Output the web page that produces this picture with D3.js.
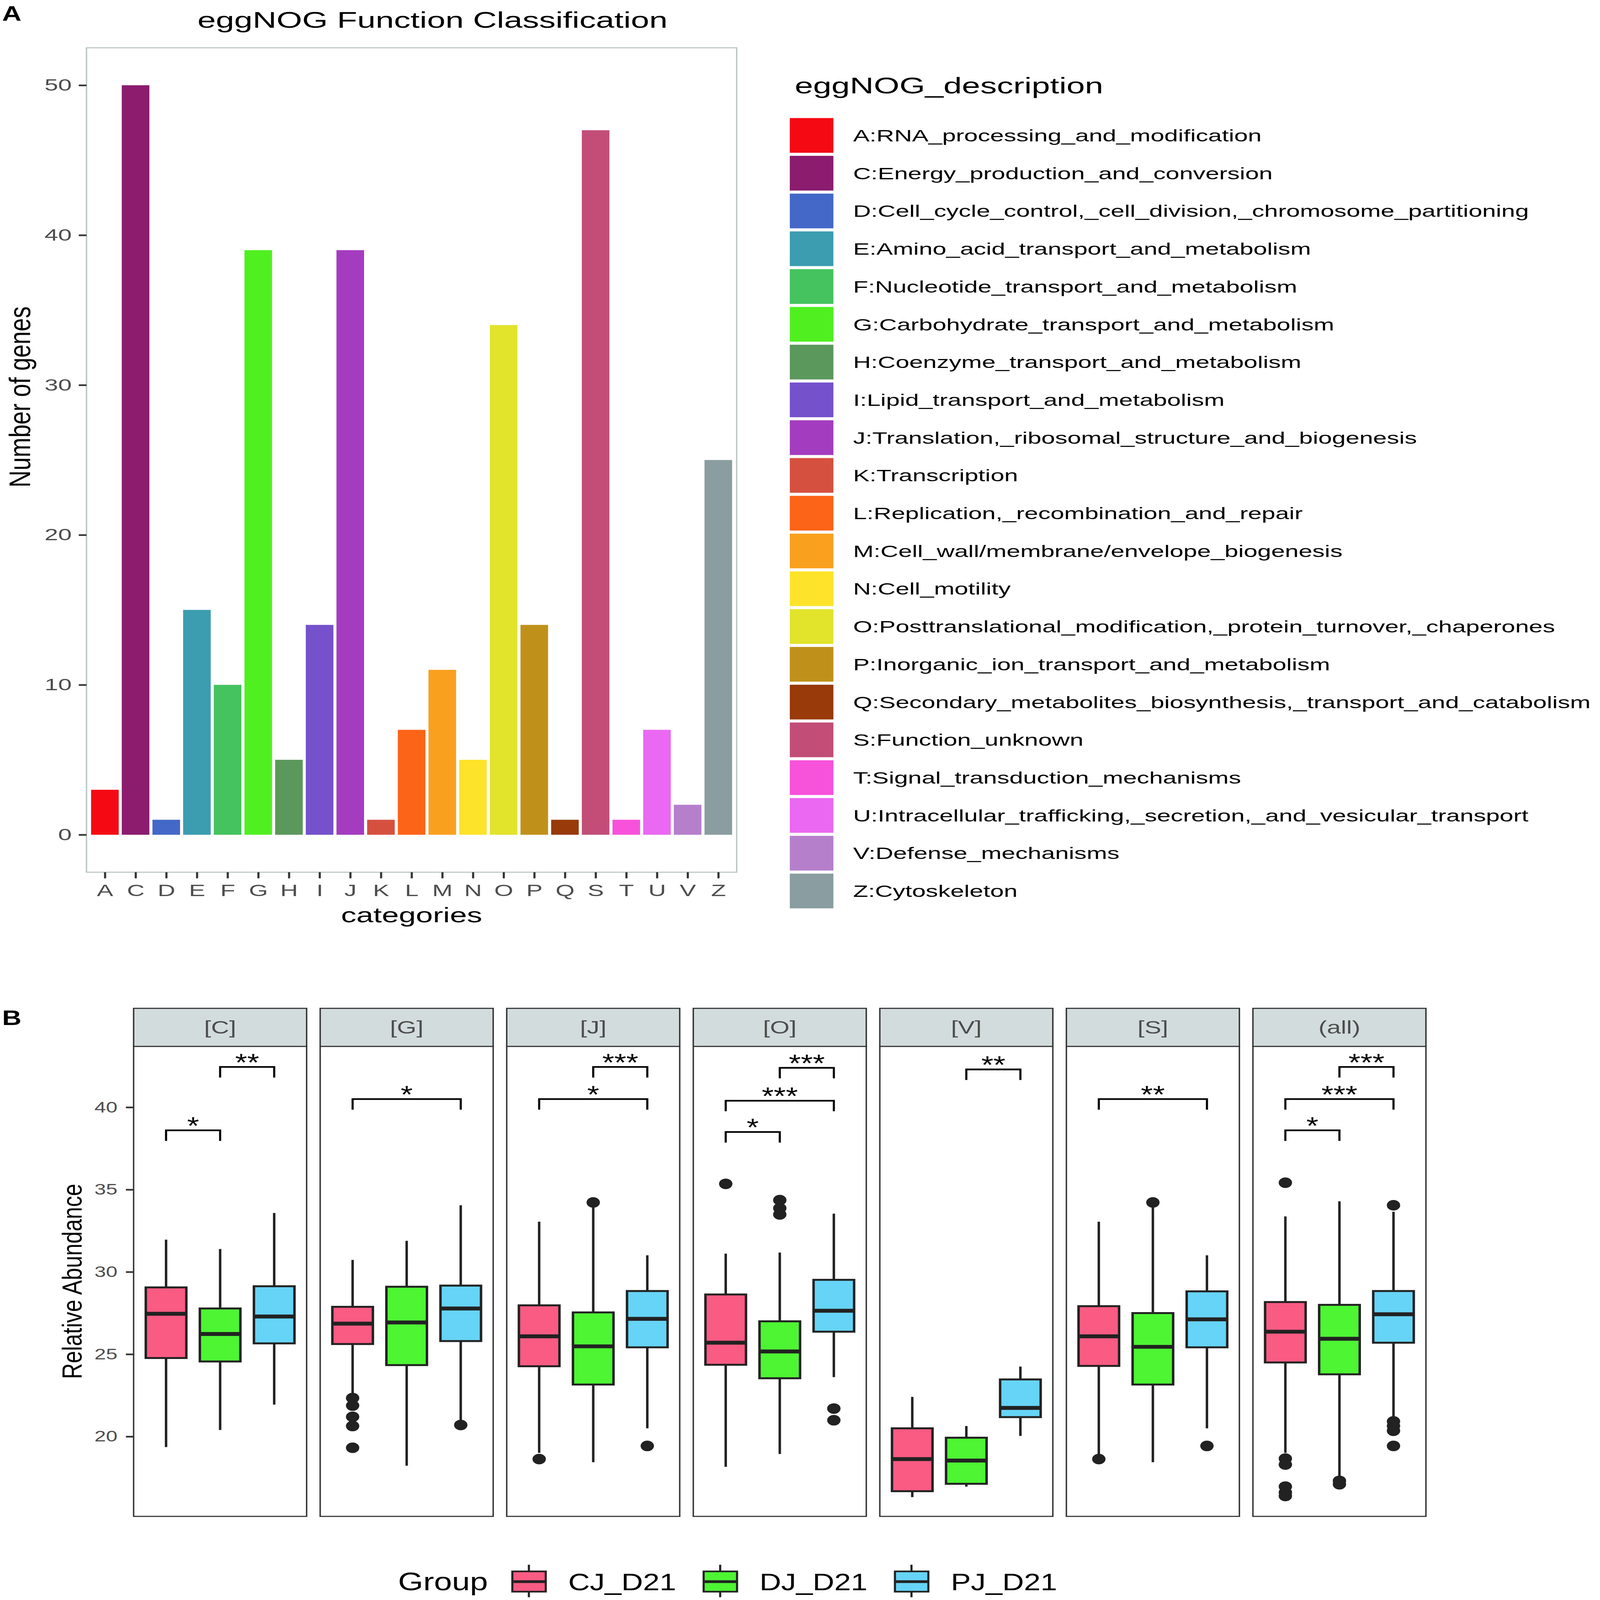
<!DOCTYPE html>
<html lang="en">
  <head>
    <meta charset="UTF-8" />
    <meta name="viewport" content="width=device-width, initial-scale=1.0" />
    <title>eggNOG Function Classification</title>
    <style>
      html,
      body {
        margin: 0;
        padding: 0;
        overflow: hidden;
        background-color: #ffffff;
      }
      #chart svg {
        display: block;
        width: 100vw;
        height: 100vh;
      }
      svg text {
        font-family: "Liberation Sans", Arial, Helvetica, sans-serif;
      }
    </style>
  </head>
  <body>
    <div id="chart"></div>

    <script src="https://d3js.org/d3.v7.min.js"></script>
    <script>
      // ---- panel A : eggNOG bar chart ----
      const categories = ["A", "C", "D", "E", "F", "G", "H", "I", "J", "K", "L",
        "M", "N", "O", "P", "Q", "S", "T", "U", "V", "Z"];
      const geneCounts = [3, 50, 1, 15, 10, 39, 5, 14, 39, 1, 7,
        11, 5, 34, 14, 1, 47, 1, 7, 2, 25];
      const descriptions = [
        "A:RNA_processing_and_modification",
        "C:Energy_production_and_conversion",
        "D:Cell_cycle_control,_cell_division,_chromosome_partitioning",
        "E:Amino_acid_transport_and_metabolism",
        "F:Nucleotide_transport_and_metabolism",
        "G:Carbohydrate_transport_and_metabolism",
        "H:Coenzyme_transport_and_metabolism",
        "I:Lipid_transport_and_metabolism",
        "J:Translation,_ribosomal_structure_and_biogenesis",
        "K:Transcription",
        "L:Replication,_recombination_and_repair",
        "M:Cell_wall/membrane/envelope_biogenesis",
        "N:Cell_motility",
        "O:Posttranslational_modification,_protein_turnover,_chaperones",
        "P:Inorganic_ion_transport_and_metabolism",
        "Q:Secondary_metabolites_biosynthesis,_transport_and_catabolism",
        "S:Function_unknown",
        "T:Signal_transduction_mechanisms",
        "U:Intracellular_trafficking,_secretion,_and_vesicular_transport",
        "V:Defense_mechanisms",
        "Z:Cytoskeleton",
      ];
      const barColors = ["#F50A14", "#8B1C6E", "#4468C8", "#3C9DB0", "#44C35E",
        "#50F020", "#5B985C", "#7551CB", "#A43CBF", "#D6503F", "#FC6418",
        "#F9A01F", "#FDE32A", "#E2E32B", "#C0911A", "#983A0A", "#C24E78",
        "#F652DA", "#EA68F2", "#B57FCC", "#8A9DA0"];
      const yTicksA = [0, 10, 20, 30, 40, 50];

      // ---- panel B : relative abundance boxplots ----
      const facets = ["[C]", "[G]", "[J]", "[O]", "[V]", "[S]", "(all)"];
      const groups = ["CJ_D21", "DJ_D21", "PJ_D21"];
      const groupColors = ["#F95B83", "#4DF533", "#66D4F7"];
      const yTicksB = [20, 25, 30, 35, 40];
      // rows = facets, columns = groups
      const whiskerLow = [
        [19.36, 20.4, 21.94], [22.62, 18.23, 20.85], [19.01, 18.44, 20.5],
        [18.16, 18.94, 23.61], [16.32, 16.96, 20.04], [18.94, 18.44, 20.5],
        [19.01, 17.6, 21.13]];
      const q1 = [
        [24.77, 24.56, 25.66], [25.62, 24.34, 25.8], [24.27, 23.16, 25.42],
        [24.36, 23.54, 26.37], [16.68, 17.13, 21.18], [24.29, 23.16, 25.42],
        [24.5, 23.78, 25.7]];
      const median = [
        [27.46, 26.23, 27.29], [26.86, 26.93, 27.78], [26.09, 25.48, 27.15],
        [25.7, 25.17, 27.64], [18.63, 18.54, 21.74], [26.09, 25.45, 27.12],
        [26.37, 25.94, 27.43]];
      const q3 = [
        [29.06, 27.78, 29.13], [27.88, 29.1, 29.17], [27.97, 27.54, 28.84],
        [28.63, 27.0, 29.52], [20.5, 19.93, 23.47], [27.92, 27.5, 28.82],
        [28.17, 28.0, 28.84]];
      const whiskerHigh = [
        [31.96, 31.39, 33.58], [30.73, 31.89, 34.05], [33.05, 33.94, 31.01],
        [31.11, 31.18, 33.54], [22.41, 20.64, 24.25], [33.05, 33.94, 31.01],
        [33.37, 34.29, 33.66]];
      const outliers = [
        [[], [], []],
        [[22.34, 21.88, 21.2, 20.64, 19.32], [], [20.7]],
        [[18.63], [34.22], [19.43]],
        [[35.35], [34.36, 33.87, 33.49], [21.7, 20.99]],
        [[], [], []],
        [[18.63], [34.22], [19.43]],
        [[35.42, 18.66, 18.3, 16.96, 16.6, 16.39], [17.31, 17.1],
          [34.05, 20.92, 20.64, 20.35, 19.43]]];

      // significance brackets
      const sigFacet = ["[C]", "[C]", "[G]", "[J]", "[J]", "[O]", "[O]", "[O]",
        "[V]", "[S]", "(all)", "(all)", "(all)"];
      const sigFrom = ["DJ_D21", "CJ_D21", "CJ_D21", "DJ_D21", "CJ_D21", "DJ_D21",
        "CJ_D21", "CJ_D21", "DJ_D21", "CJ_D21", "DJ_D21", "CJ_D21", "CJ_D21"];
      const sigTo = ["PJ_D21", "DJ_D21", "PJ_D21", "PJ_D21", "PJ_D21", "PJ_D21",
        "PJ_D21", "DJ_D21", "PJ_D21", "PJ_D21", "PJ_D21", "PJ_D21", "DJ_D21"];
      const sigY = [42.45, 38.6, 40.5, 42.45, 40.5, 42.4, 40.4, 38.5,
        42.3, 40.5, 42.45, 40.5, 38.6];
      const sigLabel = ["**", "*", "*", "***", "*", "***", "***", "*",
        "**", "**", "***", "***", "*"];

      // ---- helpers ----
      function addText(parent, str, x, y, opts) {
        const o = Object.assign(
          { size: 60, sx: 1, anchor: "start", fill: "#000", weight: "normal", rotate: 0 },
          opts
        );
        let tf = `translate(${x},${y}) scale(${o.sx},1)`;
        if (o.rotate) tf += ` rotate(${o.rotate})`;
        return parent
          .append("text")
          .attr("transform", tf)
          .attr("text-anchor", o.anchor)
          .attr("font-size", o.size)
          .attr("font-weight", o.weight)
          .attr("fill", o.fill)
          .text(str);
      }

      // widen axis labels a bit, the figure's font runs wider than Arial
      function stretch(sel, sx) {
        sel.each(function () {
          const t = d3.select(this);
          const x = +t.attr("x") || 0;
          const y = +t.attr("y") || 0;
          t.attr("x", 0)
            .attr("y", 0)
            .attr("transform", `translate(${x},${y}) scale(${sx},1)`);
        });
      }

      const W = 4550,
        H = 5760;
      const svg = d3
        .select("#chart")
        .append("svg")
        .attr("viewBox", `0 0 ${W} ${H}`)
        .attr("preserveAspectRatio", "none")
        .style("background-color", "#ffffff");

      // =========================== PANEL A ===========================
      const A = { left: 246, right: 2095, top: 172, bottom: 3140 };
      const xA = d3
        .scalePoint()
        .domain(categories)
        .range([A.left, A.right])
        .padding(0.6);
      const yA = d3.scaleLinear().domain([-2.5, 52.5]).range([A.bottom, A.top]);

      addText(svg, "A", 6, 74, { size: 76, weight: "bold" });
      addText(svg, "eggNOG Function Classification", 1230, 100, {
        size: 81, sx: 1.16, anchor: "middle",
      });

      svg
        .append("rect")
        .attr("x", A.left)
        .attr("y", A.top)
        .attr("width", A.right - A.left)
        .attr("height", A.bottom - A.top)
        .attr("fill", "#ffffff");

      svg
        .append("g")
        .selectAll("rect")
        .data(categories)
        .join("rect")
        .attr("x", (d) => xA(d) - xA.step() * 0.45)
        .attr("width", xA.step() * 0.9)
        .attr("y", (d, i) => yA(geneCounts[i]))
        .attr("height", (d, i) => yA(0) - yA(geneCounts[i]))
        .attr("fill", (d, i) => barColors[i]);

      svg
        .append("rect")
        .attr("x", A.left)
        .attr("y", A.top)
        .attr("width", A.right - A.left)
        .attr("height", A.bottom - A.top)
        .attr("fill", "none")
        .attr("stroke", "#bcc6c6")
        .attr("stroke-width", 4);

      const yAxisA = svg
        .append("g")
        .attr("transform", `translate(${A.left},0)`)
        .call(d3.axisLeft(yA).tickValues(yTicksA).tickSize(22).tickPadding(20));
      yAxisA.select(".domain").remove();
      yAxisA.selectAll("line").attr("stroke", "#333333").attr("stroke-width", 6);
      yAxisA.selectAll("text").attr("fill", "#4d4d4d").attr("font-size", 60);
      stretch(yAxisA.selectAll("text"), 1.16);

      const xAxisA = svg
        .append("g")
        .attr("transform", `translate(0,${A.bottom})`)
        .call(d3.axisBottom(xA).tickSize(22).tickPadding(21));
      xAxisA.select(".domain").remove();
      xAxisA.selectAll("line").attr("stroke", "#333333").attr("stroke-width", 6);
      xAxisA.selectAll("text").attr("fill", "#4d4d4d").attr("font-size", 60);
      stretch(xAxisA.selectAll("text"), 1.16);

      addText(svg, "categories", (A.left + A.right) / 2, 3320, {
        size: 75, sx: 1.16, anchor: "middle",
      });
      addText(svg, "Number of genes", 85, 1429, {
        size: 85, anchor: "middle", rotate: -90,
      });

      // legend
      addText(svg, "eggNOG_description", 2260, 336, { size: 81, sx: 1.16 });
      const legA = svg
        .append("g")
        .selectAll("g")
        .data(descriptions)
        .join("g")
        .attr("transform", (d, i) => `translate(2246,${425 + i * 136})`);
      legA
        .append("rect")
        .attr("width", 124)
        .attr("height", 125)
        .attr("fill", (d, i) => barColors[i]);
      legA.each(function (d) {
        addText(d3.select(this), d, 180, 84, { size: 61, sx: 1.15 });
      });

      // =========================== PANEL B ===========================
      const B = { top: 3767, bottom: 5459, stripTop: 3630 };
      const facetX = d3
        .scaleBand()
        .domain(facets)
        .range([380, 4055])
        .paddingInner(0.0726);
      const bw = facetX.bandwidth();
      const xB = d3.scalePoint().domain(groups).range([0, bw]).padding(0.6);
      const yB = d3.scaleLinear().domain([15.15, 43.7]).range([B.bottom, B.top]);
      const boxW = xB.step() * 0.75;
      const ink = "#222222";

      addText(svg, "B", 6, 3690, { size: 76, weight: "bold" });

      facets.forEach((f, fi) => {
        const g = svg.append("g").attr("transform", `translate(${facetX(f)},0)`);

        g.append("rect")
          .attr("x", 0)
          .attr("y", B.top)
          .attr("width", bw)
          .attr("height", B.bottom - B.top)
          .attr("fill", "#ffffff")
          .attr("stroke", "#333333")
          .attr("stroke-width", 4);

        g.append("rect")
          .attr("x", 0)
          .attr("y", B.stripTop)
          .attr("width", bw)
          .attr("height", B.top - B.stripTop)
          .attr("fill", "#d3dcdc")
          .attr("stroke", "#333333")
          .attr("stroke-width", 4);
        addText(g, f, bw / 2, 3721, {
          size: 65, sx: 1.1, anchor: "middle", fill: "#4d4d4d",
        });

        groups.forEach((grp, gi) => {
          const cx = xB(grp);
          g.append("line")
            .attr("x1", cx)
            .attr("x2", cx)
            .attr("y1", yB(whiskerHigh[fi][gi]))
            .attr("y2", yB(q3[fi][gi]))
            .attr("stroke", ink)
            .attr("stroke-width", 7);
          g.append("line")
            .attr("x1", cx)
            .attr("x2", cx)
            .attr("y1", yB(q1[fi][gi]))
            .attr("y2", yB(whiskerLow[fi][gi]))
            .attr("stroke", ink)
            .attr("stroke-width", 7);
          g.append("rect")
            .attr("x", cx - boxW / 2)
            .attr("width", boxW)
            .attr("y", yB(q3[fi][gi]))
            .attr("height", yB(q1[fi][gi]) - yB(q3[fi][gi]))
            .attr("fill", groupColors[gi])
            .attr("stroke", ink)
            .attr("stroke-width", 7);
          g.append("line")
            .attr("x1", cx - boxW / 2)
            .attr("x2", cx + boxW / 2)
            .attr("y1", yB(median[fi][gi]))
            .attr("y2", yB(median[fi][gi]))
            .attr("stroke", ink)
            .attr("stroke-width", 14);
          g.selectAll(null)
            .data(outliers[fi][gi])
            .join("circle")
            .attr("cx", cx)
            .attr("cy", (d) => yB(d))
            .attr("r", 19)
            .attr("fill", ink);
        });

        sigFacet.forEach((sf, si) => {
          if (sf !== f) return;
          const x1 = xB(sigFrom[si]);
          const x2 = xB(sigTo[si]);
          const y = yB(sigY[si]);
          g.append("path")
            .attr("d", `M${x1},${y + 38}V${y}H${x2}V${y + 38}`)
            .attr("fill", "none")
            .attr("stroke", "#000000")
            .attr("stroke-width", 6);
          addText(g, sigLabel[si], (x1 + x2) / 2, y + 13, {
            size: 88, anchor: "middle",
          });
        });
      });

      const yAxisB = svg
        .append("g")
        .attr("transform", `translate(${facetX(facets[0])},0)`)
        .call(d3.axisLeft(yB).tickValues(yTicksB).tickSize(22).tickPadding(24));
      yAxisB.select(".domain").remove();
      yAxisB.selectAll("line").attr("stroke", "#333333").attr("stroke-width", 6);
      yAxisB.selectAll("text").attr("fill", "#4d4d4d").attr("font-size", 55);
      stretch(yAxisB.selectAll("text"), 1.07);

      addText(svg, "Relative Abundance", 232, (B.top + B.bottom) / 2, {
        size: 79, anchor: "middle", rotate: -90,
      });

      // legend
      addText(svg, "Group", 1132, 5725, { size: 92 });
      const legB = svg
        .append("g")
        .selectAll("g")
        .data(groups)
        .join("g")
        .attr("transform", (d, i) => `translate(${1451 + i * 544},0)`);
      legB
        .append("line")
        .attr("x1", 53)
        .attr("x2", 53)
        .attr("y1", 5633)
        .attr("y2", 5750)
        .attr("stroke", ink)
        .attr("stroke-width", 6);
      legB
        .append("rect")
        .attr("x", 6)
        .attr("width", 95)
        .attr("y", 5657)
        .attr("height", 73)
        .attr("fill", (d, i) => groupColors[i])
        .attr("stroke", ink)
        .attr("stroke-width", 6);
      legB
        .append("line")
        .attr("x1", 6)
        .attr("x2", 101)
        .attr("y1", 5694)
        .attr("y2", 5694)
        .attr("stroke", ink)
        .attr("stroke-width", 10);
      legB.each(function (d) {
        addText(d3.select(this), d, 165, 5725, { size: 85 });
      });
    </script>
  </body>
</html>
